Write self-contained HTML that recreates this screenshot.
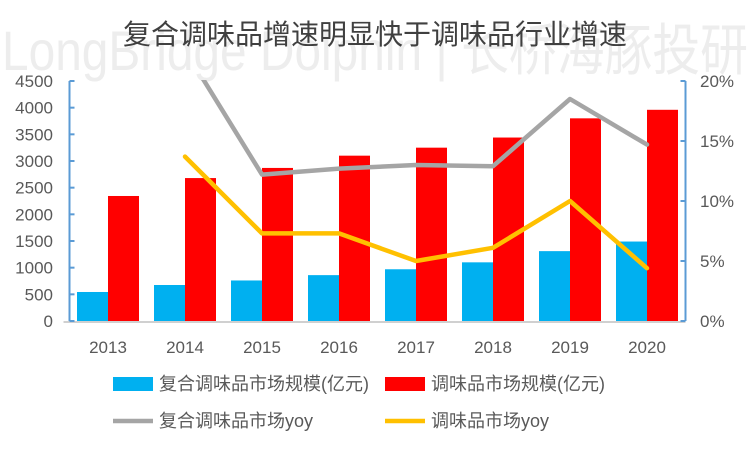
<!DOCTYPE html>
<html><head><meta charset="utf-8"><style>
body{margin:0;background:#fff;}
svg text{font-family:"Liberation Sans","Noto Sans CJK SC",sans-serif;}
</style></head><body>
<svg id="c" width="750" height="450" xmlns="http://www.w3.org/2000/svg">
<text x="2" y="70" font-size="56" fill="#ededed" textLength="746" lengthAdjust="spacingAndGlyphs">LongBridge Dolphin | 长桥海豚投研</text>
<text x="375" y="44" font-size="28" fill="#404040" text-anchor="middle">复合调味品增速明显快于调味品行业增速</text>
<g id="plot"></g>
</svg>
<script>
const categories=["2013","2014","2015","2016","2017","2018","2019","2020"];
const compoundSize=[544,675,760,860,970,1100,1310,1490];
const totalSize=[2344,2680,2870,3100,3250,3440,3800,3960];
const compoundYoy=[null,22.6,12.2,12.7,13.0,12.9,18.5,14.7];
const totalYoy=[null,13.7,7.3,7.3,5.0,6.1,10.0,4.4];
const leftTicks=[0,500,1000,1500,2000,2500,3000,3500,4000,4500];
const rightTicks=[0,5,10,15,20];

const NS="http://www.w3.org/2000/svg";
const g=document.getElementById('plot');
const x0=69.5,x1=685.5,yB=321,yT=81;
const band=(x1-x0)/categories.length;
const xc=i=>x0+band*(i+0.5);
const yL=v=>yB-(v/4500)*(yB-yT);
const yR=v=>yB-(v/20)*(yB-yT);
function mk(t,a){const e=document.createElementNS(NS,t);for(const k in a)e.setAttribute(k,a[k]);g.appendChild(e);return e;}
const clip=document.createElementNS(NS,'clipPath');clip.setAttribute('id','cp');
const cr=document.createElementNS(NS,'rect');cr.setAttribute('x',x0);cr.setAttribute('y',yT-1);cr.setAttribute('width',x1-x0);cr.setAttribute('height',yB-yT+4);
clip.appendChild(cr);g.appendChild(clip);
categories.forEach((c,i)=>{
  let e=mk('rect',{x:xc(i)-31,y:yL(compoundSize[i]),width:31,height:yB-yL(compoundSize[i]),fill:'#00b0f0'});
  
  
  e=mk('rect',{x:xc(i),y:yL(totalSize[i]),width:31,height:yB-yL(totalSize[i]),fill:'#ff0000'});
  
  
  e=mk('text',{x:xc(i),y:353,'font-size':17,fill:'#595959','text-anchor':'middle'});e.textContent=c;
  
  
});
let ax=mk('line',{x1:x0-6,y1:yB+1,x2:x1,y2:yB+1,stroke:'#d0d0d0','stroke-width':2});


ax=mk('line',{x1:x0,y1:yT,x2:x0,y2:yB,stroke:'#5b9bd5','stroke-width':2});


ax=mk('line',{x1:x1,y1:yT,x2:x1,y2:yB,stroke:'#5b9bd5','stroke-width':2});


leftTicks.forEach(v=>{
  mk('line',{x1:x0,y1:yL(v),x2:x0+5,y2:yL(v),stroke:'#5b9bd5','stroke-width':2});
  const t=mk('text',{x:53,y:yL(v)+6,'font-size':17,fill:'#595959','text-anchor':'end'});t.textContent=v;
  
  
});
rightTicks.forEach(v=>{
  mk('line',{x1:x1-5,y1:yR(v),x2:x1,y2:yR(v),stroke:'#5b9bd5','stroke-width':2});
  const t=mk('text',{x:700,y:yR(v)+6,'font-size':17,fill:'#595959'});t.textContent=v+'%';
  
  
});
function line(arr,col,name){
  const pts=[];arr.forEach((v,i)=>{if(v!==null)pts.push(xc(i)+','+yR(v));});
  const p=mk('polyline',{points:pts.join(' '),fill:'none',stroke:col,'stroke-width':4.5,'stroke-linejoin':'round','stroke-linecap':'round','clip-path':'url(#cp)'});
  
  
}
line(compoundYoy,'#a5a5a5','line-compound-yoy');
line(totalYoy,'#ffc000','line-total-yoy');
function leg(x,y,type,col,label,name){
  const gg=document.createElementNS(NS,'g');g.appendChild(gg);
  
  
  const s=type==='rect'?document.createElementNS(NS,'rect'):document.createElementNS(NS,'line');
  if(type==='rect'){s.setAttribute('x',x);s.setAttribute('y',y-7);s.setAttribute('width',40);s.setAttribute('height',14);s.setAttribute('fill',col);}
  else{s.setAttribute('x1',x);s.setAttribute('x2',x+40);s.setAttribute('y1',y);s.setAttribute('y2',y);s.setAttribute('stroke',col);s.setAttribute('stroke-width',4.5);}
  gg.appendChild(s);
  const t=document.createElementNS(NS,'text');t.setAttribute('x',x+46);t.setAttribute('y',y+6);t.setAttribute('font-size',18);t.setAttribute('fill','#595959');t.textContent=label;gg.appendChild(t);
}
leg(113,384,'rect','#00b0f0','复合调味品市场规模(亿元)','legend-compound-size');
leg(385,384,'rect','#ff0000','调味品市场规模(亿元)','legend-total-size');
leg(113,421,'line','#a5a5a5','复合调味品市场yoy','legend-compound-yoy');
leg(385,421,'line','#ffc000','调味品市场yoy','legend-total-yoy');
</script>
</body></html>
